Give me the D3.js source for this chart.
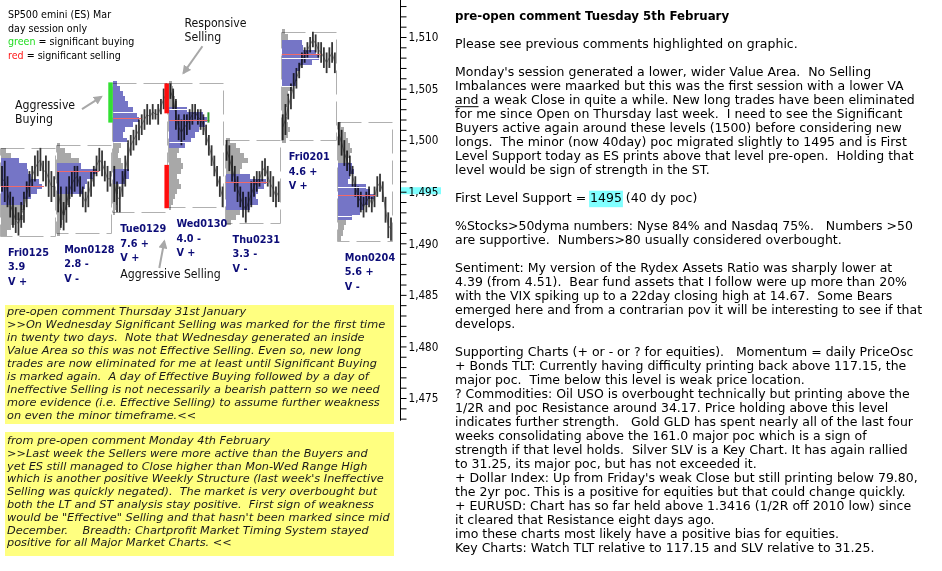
<!DOCTYPE html>
<html><head><meta charset="utf-8">
<script src="https://cdn.jsdelivr.net/npm/d3@7"></script>
<style>
html,body{margin:0;padding:0;background:#fff;overflow:hidden;}
svg{display:block;}
</style></head><body>
<svg id="c" width="942" height="571"></svg>
<script>
// ---------------- DATA ----------------
const days      = ["Fri0125","Mon0128","Tue0129","Wed0130","Thu0231","Fri0201","Mon0204"];
const dayHigh   = [1499.25, 1499.5, 1505.5, 1505.5, 1500.0, 1510.5, 1501.75];
const dayLow    = [1490.75, 1491.0, 1493.0, 1493.5, 1492.0, 1500.0, 1490.25];
const dayRange  = ["3.9", "2.8 -", "7.6 +", "4.0 -", "3.3 -", "4.6 +", "5.6 +"];
const dayValue  = ["V +", "V -", "V +", "V +", "V -", "V +", "V -"];
const pocPrice  = [1495.6, 1497.0, 1502.1, 1502.0, 1495.9, 1508.35, 1494.7];
const valueAreas = [
  [[1498.0, 1494.0]],
  [[1497.6, 1494.9]],
  [[1505.75, 1499.8], [1497.25, 1495.75]],
  [[1503.2, 1499.3]],
  [[1496.8, 1493.2]],
  [[1509.7, 1505.3]],
  [[1497.8, 1492.1]]
];
const whiteLines = [[], [], [1502.7, 1499.8], [1503.0, 1499.8], [], [1508.0, 1505.25], [1495.5, 1492.6]];
// profile rows every 0.5 point, starting at profileTop
const profileTop = [1499.0, 1499.5, 1505.5, 1505.5, 1500.0, 1510.5, 1501.5];
const profFri0125 = [5,10,18,26,27,30,38,41,36,30,22,24,20,22,14,10,6];
const profMon0128 = [3,8,14,22,24,40,36,30,28,26,14,12,10,8,6,5,4,3];
const profTue0129 = [4,7,10,12,15,20,24,26,20,12,10,14,8,6,5,8,10,16,16,12,6,5,4,4,3,2];
const profWed0130 = [3,4,5,6,8,18,34,38,36,30,26,22,16,10,8,12,14,12,8,10,12,8,6,4,2];
const profThu0231 = [4,10,14,18,22,16,14,24,40,38,32,30,32,24,14,10,5];
const profFri0201 = [3,6,20,21,34,37,30,18,15,15,14,10,6,5,5,4,4,5,6,8,6,4];
const profMon0204 = [3,6,8,10,12,14,12,10,14,16,12,10,28,32,36,30,26,22,14,8,6,5,3];
// intraday bars: [low, high]
const barsFri0125 = [[1495.0,1497.5],[1494.0,1498.0],[1493.5,1496.5],[1492.5,1495.0],[1491.5,1494.5],[1491.0,1493.5],[1490.75,1493.0],[1491.5,1494.0],[1492.0,1495.0],[1493.5,1496.0],[1494.5,1497.0],[1495.5,1497.5],[1496.0,1498.5],[1496.5,1499.0],[1497.0,1499.25],[1496.0,1498.0],[1495.5,1498.5],[1494.5,1498.0],[1494.0,1497.0],[1494.5,1496.5]];
const barsMon0128 = [[1493.0,1497.0],[1491.5,1495.5],[1491.25,1494.0],[1492.0,1495.5],[1493.5,1496.5],[1494.5,1497.0],[1495.0,1497.5],[1495.5,1497.5],[1494.5,1496.5],[1493.5,1495.5],[1493.0,1495.0],[1493.5,1496.0],[1494.5,1497.0],[1495.5,1497.5],[1496.5,1498.5],[1497.0,1499.25],[1496.5,1499.0],[1496.0,1498.0],[1495.0,1497.5],[1495.5,1497.0]];
const barsTue0129 = [[1494.0,1497.5],[1493.0,1496.0],[1493.0,1495.5],[1494.5,1497.0],[1495.5,1498.5],[1497.0,1500.0],[1498.5,1500.5],[1499.0,1501.0],[1499.5,1501.5],[1500.0,1502.0],[1500.5,1502.5],[1501.0,1503.0],[1501.5,1503.5],[1501.5,1503.0],[1502.0,1503.5],[1502.0,1503.0],[1501.5,1503.5],[1502.5,1504.0],[1503.0,1505.0],[1503.5,1505.5]];
const barsWed0130 = [[1504.0,1505.5],[1503.0,1505.0],[1501.0,1504.0],[1500.0,1502.5],[1499.5,1502.0],[1500.0,1502.5],[1500.5,1502.5],[1501.0,1503.0],[1501.5,1503.5],[1502.0,1503.5],[1501.5,1503.0],[1501.0,1503.0],[1500.5,1502.5],[1499.5,1501.5],[1498.5,1500.5],[1497.5,1499.5],[1496.5,1498.5],[1495.5,1497.5],[1494.5,1496.5],[1493.5,1495.5]];
const barsThu0231 = [[1498.0,1500.0],[1497.0,1499.5],[1496.0,1498.5],[1495.0,1497.5],[1494.0,1496.5],[1493.5,1495.5],[1492.5,1495.0],[1492.0,1494.5],[1493.0,1495.0],[1493.5,1496.0],[1494.5,1496.5],[1495.0,1497.0],[1495.5,1497.0],[1496.0,1498.0],[1496.5,1498.25],[1495.5,1497.5],[1494.5,1497.0],[1494.0,1496.5],[1493.5,1495.5],[1494.0,1496.0]];
const barsFri0201 = [[1500.0,1502.5],[1500.5,1503.5],[1502.0,1504.5],[1503.0,1505.5],[1504.0,1506.5],[1505.0,1507.0],[1506.0,1507.5],[1507.0,1508.5],[1507.5,1509.0],[1508.0,1509.5],[1508.5,1510.0],[1509.0,1510.5],[1508.5,1510.25],[1508.0,1509.5],[1507.5,1509.5],[1507.0,1509.0],[1506.5,1508.5],[1507.0,1509.0],[1507.5,1509.5],[1506.5,1508.5]];
const barsMon0204 = [[1499.5,1501.75],[1498.5,1501.0],[1497.5,1500.0],[1497.0,1499.0],[1496.5,1498.5],[1495.5,1497.5],[1494.5,1496.5],[1493.5,1495.5],[1493.0,1495.0],[1492.5,1494.5],[1493.0,1495.0],[1493.5,1495.5],[1493.0,1494.5],[1493.5,1495.5],[1494.5,1496.5],[1495.0,1496.75],[1494.0,1496.0],[1492.0,1494.5],[1490.5,1493.0],[1490.25,1492.5]];
// imbalance markers
const markerDay   = [2, 3, 3, 3];
const markerHigh  = [1505.6, 1505.5, 1497.6, 1502.7];
const markerLow   = [1501.7, 1502.6, 1493.4, 1501.7];
const markerColor = ["#33e033", "#ff0d0d", "#ff0d0d", "#2a9a2a"];
// axis
const yMajorTicks = [1475, 1480, 1485, 1490, 1495, 1500, 1505, 1510];
const yAllTicks = d3.range(1473, 1514);
const supportLevel = 1495;

const profiles = [profFri0125, profMon0128, profTue0129, profWed0130, profThu0231, profFri0201, profMon0204];
const bars = [barsFri0125, barsMon0128, barsTue0129, barsWed0130, barsThu0231, barsFri0201, barsMon0204];

const legendLines = [
  [{t:"SP500 emini (ES) Mar", c:"#000"}],
  [{t:"day session only", c:"#000"}],
  [{t:"green", c:"#22dd22"}, {t:" = significant buying", c:"#000"}],
  [{t:"red", c:"#ff1a1a"}, {t:" = significant selling", c:"#000"}]
];
const box1Lines = [
  "pre-open comment Thursday 31st January",
  ">>On Wednesday Significant Selling was marked for the first time",
  "in twenty two days.  Note that Wednesday generated an inside",
  "Value Area so this was not Effective Selling. Even so, new long",
  "trades are now eliminated for me at least until Significant Buying",
  "is marked again.  A day of Effective Buying followed by a day of",
  "Ineffective Selling is not necessarily a bearish pattern so we need",
  "more evidence (i.e. Effective Selling) to assume further weakness",
  "on even the minor timeframe.<<"
];
const box2Lines = [
  "from pre-open comment Monday 4th February",
  ">>Last week the Sellers were more active than the Buyers and",
  "yet ES still managed to Close higher than Mon-Wed Range High",
  "which is another positive Weekly Structure (last week's Ineffective",
  "Selling was quickly negated).  The market is very overbought but",
  "both the LT and ST analysis stay positive.  First sign of weakness",
  "would be \"Effective\" Selling and that hasn't been marked since mid",
  "December.    Breadth: Chartprofit Market Timing System stayed",
  "positive for all Major Market Charts. <<"
];
const commentLines = [
  "pre-open comment Tuesday 5th February",
  "",
  "Please see previous comments highlighted on graphic.",
  "",
  "Monday's session generated a lower, wider Value Area.  No Selling",
  "Imbalances were maarked but this was the first session with a lower VA",
  "and a weak Close in quite a while. New long trades have been eliminated",
  "for me since Open on Thursday last week.  I need to see the Significant",
  "Buyers active again around these levels (1500) before considering new",
  "longs.  The minor (now 40day) poc migrated slightly to 1495 and is First",
  "Level Support today as ES prints above that level pre-open.  Holding that",
  "level would be sign of strength in the ST.",
  "",
  "First Level Support = 1495 (40 dy poc)",
  "",
  "%Stocks>50dyma numbers: Nyse 84% and Nasdaq 75%.   Numbers >50",
  "are supportive.  Numbers>80 usually considered overbought.",
  "",
  "Sentiment: My version of the Rydex Assets Ratio was sharply lower at",
  "4.39 (from 4.51).  Bear fund assets that I follow were up more than 20%",
  "with the VIX spiking up to a 22day closing high at 14.67.  Some Bears",
  "emerged here and from a contrarian pov it will be interesting to see if that",
  "develops.",
  "",
  "Supporting Charts (+ or - or ? for equities).   Momentum = daily PriceOsc",
  "+ Bonds TLT: Currently having difficulty printing back above 117.15, the",
  "major poc.  Time below this level is weak price location.",
  "? Commodities: Oil USO is overbought technically but printing above the",
  "1/2R and poc Resistance around 34.17. Price holding above this level",
  "indicates further strength.   Gold GLD has spent nearly all of the last four",
  "weeks consolidating above the 161.0 major poc which is a sign of",
  "strength if that level holds.  Silver SLV is a Key Chart. It has again rallied",
  "to 31.25, its major poc, but has not exceeded it.",
  "+ Dollar Index: Up from Friday's weak Close but still printing below 79.80,",
  "the 2yr poc. This is a positive for equities but that could change quickly.",
  "+ EURUSD: Chart has so far held above 1.3416 (1/2R off 2010 low) since",
  "it cleared that Resistance eight days ago.",
  "imo these charts most likely have a positive bias for equities.",
  "Key Charts: Watch TLT relative to 117.15 and SLV relative to 31.25."
];

// ---------------- SCALES ----------------
const svg = d3.select("#c");
const COND = "'DejaVu Sans Condensed','DejaVu Sans',sans-serif";
const SANS = "'DejaVu Sans',Verdana,sans-serif";

const y = d3.scaleLinear().domain([1510, 1475]).range([37, 398]);
const x = d3.scaleBand().domain(days).range([0, 393]).padding(0);
const bw = x.bandwidth();
const wScale = d3.scaleLinear().domain([0, 40]).range([0, 40]);

// ---------------- BOXES ----------------
const gBox = svg.append("g");
days.forEach((d, i) => {
  gBox.append("rect")
    .attr("x", Math.round(x(d)) + 0.5).attr("y", Math.round(y(dayHigh[i])) + 0.5)
    .attr("width", Math.round(bw) - 1).attr("height", Math.round(y(dayLow[i]) - y(dayHigh[i])))
    .attr("fill", "none").attr("stroke", "#b0b0b0").attr("stroke-width", 1)
    .attr("stroke-dasharray", "24,7");
});

// ---------------- PRICE BARS ----------------
const gBars = svg.append("g");
days.forEach((d, i) => {
  const bx = d3.scaleLinear().domain([0, bars[i].length - 1]).range([x(d) + 2, x(d) + bw - 2]);
  // thin trace joining consecutive bar midpoints
  gBars.append("path")
    .attr("d", d3.line().x((b, j) => bx(j)).y(b => y((b[0] + b[1]) / 2))(bars[i]))
    .attr("fill", "none").attr("stroke", "#666").attr("stroke-width", 0.8);
  gBars.selectAll(null).data(bars[i]).enter().append("line")
    .attr("x1", (b, j) => bx(j)).attr("x2", (b, j) => bx(j))
    .attr("y1", b => y(b[1])).attr("y2", b => y(b[0]))
    .attr("stroke", "#363636").attr("stroke-width", 1.8);
});

// ---------------- PROFILES ----------------
const gProf = svg.append("g").style("mix-blend-mode", "multiply");
function inVA(i, p) { return valueAreas[i].some(r => p <= r[0] && p >= r[1]); }
days.forEach((d, i) => {
  const rows = profiles[i].map((w, k) => ({ p: profileTop[i] - 0.5 * k, w }));
  gProf.selectAll(null).data(rows).enter().append("rect")
    .attr("shape-rendering", "crispEdges")
    .attr("x", Math.round(x(d)) + 1)
    .attr("y", r => Math.round(y(r.p + 0.25)))
    .attr("width", r => Math.round(wScale(r.w)))
    .attr("height", r => Math.round(y(r.p - 0.25)) - Math.round(y(r.p + 0.25)))
    .attr("fill", r => inVA(i, r.p) ? "#7575c6" : "#a8a8a8");
});

// white lines & POC
const gLines = svg.append("g");
days.forEach((d, i) => {
  const rowsW = p => {
    const k = Math.round((profileTop[i] - p) / 0.5);
    return profiles[i][Math.max(0, Math.min(profiles[i].length - 1, k))];
  };
  whiteLines[i].forEach(p => {
    gLines.append("line")
      .attr("x1", x(d) + 1).attr("x2", x(d) + 1 + wScale(rowsW(p)))
      .attr("y1", Math.round(y(p)) + 0.5).attr("y2", Math.round(y(p)) + 0.5)
      .attr("stroke", "#fff").attr("stroke-width", 1);
  });
  const maxW = d3.max(profiles[i]);
  gLines.append("line")
    .attr("x1", x(d) + 1).attr("x2", x(d) + 3 + wScale(maxW))
    .attr("y1", Math.round(y(pocPrice[i])) + 0.5).attr("y2", Math.round(y(pocPrice[i])) + 0.5)
    .attr("stroke", "#f06a6a").attr("stroke-width", 1);
});

// ---------------- MARKERS ----------------
markerDay.forEach((di, m) => {
  const d = days[di];
  const mx = m < 3 ? x(d) - 4 : x(d) + 1 + wScale(d3.max(profiles[di]));
  svg.append("rect")
    .attr("x", mx).attr("y", y(markerHigh[m]))
    .attr("width", m < 3 ? 4.5 : 2).attr("height", y(markerLow[m]) - y(markerHigh[m]))
    .attr("fill", markerColor[m]);
});

// ---------------- DAY LABELS ----------------
const gLab = svg.append("g").attr("font-family", COND).attr("font-weight", "bold")
  .attr("font-size", "10.8px").attr("fill", "#0d0d78");
days.forEach((d, i) => {
  const by = y(dayLow[i]) + 20;
  const lx = x(d) + 8;
  [d, dayRange[i], dayValue[i]].forEach((t, k) => {
    gLab.append("text").attr("x", lx).attr("y", by + 14.5 * k).style("white-space", "pre").text(t);
  });
});

// ---------------- LEGEND ----------------
legendLines.forEach((segs, k) => {
  const t = svg.append("text").attr("x", 8).attr("y", 18 + 13.7 * k)
    .attr("font-family", COND).attr("font-size", "10.6px");
  segs.forEach(s => t.append("tspan").attr("fill", s.c).text(s.t));
});

// ---------------- ANNOTATIONS ----------------
const defs = svg.append("defs");
defs.append("marker").attr("id", "ah").attr("viewBox", "0 0 10 10")
  .attr("refX", 8).attr("refY", 5).attr("markerWidth", 4.5).attr("markerHeight", 4.5)
  .attr("orient", "auto").append("path").attr("d", "M0,0 L10,5 L0,10 z").attr("fill", "#a8a8a8");
const ann = svg.append("g").attr("font-family", COND).attr("font-size", "12.2px").attr("fill", "#111");
const gx = x(days[2]);
const wx = x(days[3]);
// Aggressive Buying
ann.append("text").attr("x", 15).attr("y", y(1503.0)).text("Aggressive");
ann.append("text").attr("x", 15).attr("y", y(1503.0) + 13.6).text("Buying");
svg.append("line").attr("x1", 82).attr("y1", y(1503.0)).attr("x2", gx - 11).attr("y2", y(1504.2))
  .attr("stroke", "#a8a8a8").attr("stroke-width", 2).attr("marker-end", "url(#ah)");
// Responsive Selling
ann.append("text").attr("x", wx + 16).attr("y", y(1510.95)).text("Responsive");
ann.append("text").attr("x", wx + 16).attr("y", y(1510.95) + 13.6).text("Selling");
svg.append("line").attr("x1", wx + 34).attr("y1", y(1509.1)).attr("x2", wx + 15).attr("y2", y(1506.5))
  .attr("stroke", "#a8a8a8").attr("stroke-width", 2).attr("marker-end", "url(#ah)");
// Aggressive Selling
ann.append("text").attr("x", gx + 8).attr("y", y(1486.6)).text("Aggressive Selling");
svg.append("line").attr("x1", gx + 47).attr("y1", y(1487.6)).attr("x2", gx + 52).attr("y2", y(1490.2))
  .attr("stroke", "#a8a8a8").attr("stroke-width", 2).attr("marker-end", "url(#ah)");

// ---------------- Y AXIS ----------------
const axX = 400;
svg.append("rect").attr("x", axX + 1).attr("y", y(supportLevel) - 4.5)
  .attr("width", 40).attr("height", 7).attr("fill", "#80ffff");
const axG = svg.append("g").attr("transform", `translate(${axX + 0.5},0)`)
  .call(d3.axisRight(y).tickValues(yAllTicks).tickSize(6).tickSizeOuter(0).tickPadding(2)
    .tickFormat(v => yMajorTicks.includes(v) ? d3.format(",")(v) : ""));
axG.select(".domain").remove();
axG.selectAll(".tick line").attr("stroke", "#000");
axG.selectAll(".tick text").attr("font-family", COND).attr("font-size", "11.6px").attr("fill", "#000");
svg.append("line").attr("x1", axX + 0.5).attr("x2", axX + 0.5).attr("y1", 0).attr("y2", y(1472.8))
  .attr("stroke", "#000").attr("stroke-width", 1);

// ---------------- YELLOW BOXES ----------------
function yellowBox(lines, top, h, lh, firstY) {
  svg.append("rect").attr("x", 5).attr("y", top).attr("width", 389).attr("height", h).attr("fill", "#ffff80");
  const g = svg.append("g").attr("font-family", SANS).attr("font-style", "italic")
    .attr("font-size", "11.3px").attr("fill", "#1a1a1a");
  lines.forEach((t, k) => g.append("text").attr("x", 7).attr("y", firstY + lh * k)
    .style("white-space", "pre").text(t));
}
yellowBox(box1Lines, 305, 119, 13.04, 314.7);
yellowBox(box2Lines, 432, 124, 12.8, 444);

// ---------------- RIGHT COMMENT PANEL ----------------
const cg = svg.append("g").attr("font-family", SANS).attr("font-size", "12.5px").attr("fill", "#000");
commentLines.forEach((t, k) => {
  if (!t) return;
  const te = cg.append("text").attr("x", 455).attr("y", 20.2 + 14 * k).style("white-space", "pre").text(t);
  if (k === 0) te.attr("font-weight", "bold").attr("font-size", "11.8px");
  const node = te.node();
  if (t.startsWith("First Level Support = 1495")) {
    const i0 = t.indexOf("1495");
    const x0 = 455 + node.getSubStringLength(0, i0);
    const w = node.getSubStringLength(i0, 4);
    cg.insert("rect", "text").attr("x", x0 - 1).attr("y", 20.2 + 14 * k - 11.5)
      .attr("width", w + 2).attr("height", 16.5).attr("fill", "#80ffff");
  }
  if (k === 6) {
    const w = node.getSubStringLength(0, 3);
    cg.append("line").attr("x1", 455).attr("x2", 455 + w)
      .attr("y1", 20.2 + 14 * k + 2.5).attr("y2", 20.2 + 14 * k + 2.5)
      .attr("stroke", "#000").attr("stroke-width", 1);
  }
});
</script>
</body></html>
